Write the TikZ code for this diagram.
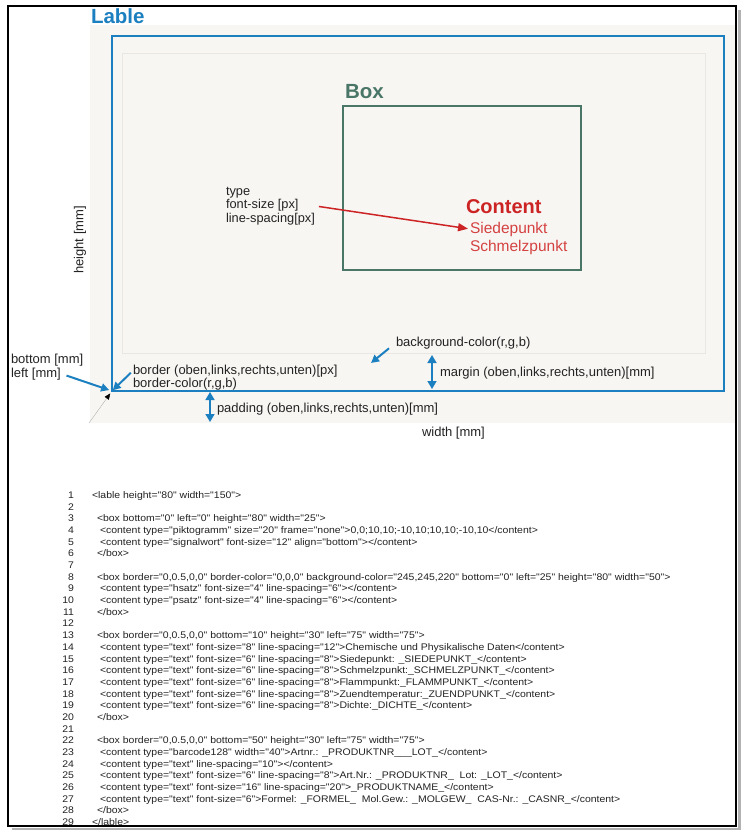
\documentclass[tikz,border=0pt]{standalone}
\usepackage{fontspec}
\setmainfont{Liberation Sans}
\newfontfamily\codefont[FakeStretch=1.09]{Liberation Sans}
\usetikzlibrary{arrows.meta,positioning}

\definecolor{lblue}{RGB}{28,128,192}
\definecolor{lbg}{RGB}{248,246,243}
\definecolor{lline}{RGB}{234,230,225}
\definecolor{boxgreen}{RGB}{74,118,104}
\definecolor{cred}{RGB}{204,36,36}
\definecolor{cred2}{RGB}{212,66,66}
\definecolor{ctext}{RGB}{35,35,35}

\begin{document}
\begin{tikzpicture}[x=1pt,y=-1pt]
\tikzstyle{every node}=[inner sep=0pt, outer sep=0pt, text=ctext]
\tikzstyle{lbl}=[anchor=base west, align=left, font=\fontsize{13}{13.5}\selectfont]
\tikzstyle{num}=[anchor=base east, font=\codefont\fontsize{9.6}{11}\selectfont]
\tikzstyle{code}=[anchor=base west, font=\codefont\fontsize{9.6}{11}\selectfont]
\tikzstyle{bluearrow}=[draw=lblue, line width=2pt, -{Triangle[length=8pt,width=8pt]}]
\tikzstyle{dblarrow}=[draw=lblue, line width=1.6pt, {Triangle[length=8pt,width=9pt]}-{Triangle[length=8pt,width=9pt]}]
\tikzstyle{redarrow}=[draw=cred, line width=1.5pt, -{Triangle[length=10pt,width=8pt]}]

\useasboundingbox (0,0) rectangle (744,830);
\fill[white] (0,0) rectangle (744,830);

% lable area
\fill[lbg] (90,25) rectangle (735,423);
\draw[lline] (122,53) rectangle (705,353);
\draw[lblue, line width=2pt] (112,36) rectangle (724,391);
\node[anchor=base west, font=\bfseries\fontsize{20.5}{22}\selectfont, text=lblue] (lable) at (91,23) {Lable};

% box and content
\draw[boxgreen, line width=1.6pt] (343,106) rectangle (581,270);
\node[anchor=base west, font=\bfseries\fontsize{20.5}{22}\selectfont, text=boxgreen] (box) at (345,98) {Box};
\node[anchor=base west, font=\bfseries\fontsize{20}{22}\selectfont, text=cred] (content) at (466,213) {Content};
\node[anchor=base west, font=\fontsize{15.5}{18}\selectfont, text=cred2] (siede) at (470,233) {Siedepunkt};
\node[anchor=base west, font=\fontsize{15.5}{18}\selectfont, text=cred2] (schmelz) at (470,251) {Schmelzpunkt};
\node[lbl, font=\fontsize{12.8}{13.3}\selectfont] (typ) at (226,222) {type\\font-size [px]\\line-spacing[px]};
\draw[redarrow, shorten <=4pt, shorten >=2pt] (typ.east) -- (siede.west);

% labels
\node[rotate=90, font=\fontsize{13}{13.5}\selectfont] (height) at (80,240) {height [mm]};
\node[lbl] (bottom) at (11,363) {bottom [mm]};
\node[lbl] (left) at (11,377) {left [mm]};
\node[lbl] (border) at (133,374) {border (oben,links,rechts,unten)[px]};
\node[lbl] (bcolor) at (133,387) {border-color(r,g,b)};
\node[lbl] (padding) at (217,412) {padding (oben,links,rechts,unten)[mm]};
\node[lbl] (width) at (422,436) {width [mm]};
\node[lbl] (bgcolor) at (396,346) {background-color(r,g,b)};
\node[lbl] (margin) at (440,376) {margin (oben,links,rechts,unten)[mm]};

% arrows
\coordinate (corner) at (112,391);
\coordinate (origin) at (89,423);
\coordinate (bgpt) at (371,363);
\coordinate (marginin) at (432,355);
\coordinate (marginout) at (432,389);
\coordinate (padin) at (210,392);
\coordinate (padout) at (210,422);
\draw[bluearrow, shorten <=6pt, shorten >=3pt] (left.east) -- (corner);
\draw[bluearrow, shorten <=3pt, shorten >=1pt] (border.west) -- (corner);
\draw[bluearrow, shorten <=9pt] (bgcolor.west) -- (bgpt);
\draw[dblarrow] (marginin) -- (marginout);
\draw[dblarrow] (padin) -- (padout);
\draw[gray!60, -{Triangle[length=6pt,width=5pt,color=black]}, shorten >=3pt] (origin) -- (corner);

% listing
\foreach \i in {1,...,29}
  \node[num] (n\i) at (74,{498.5+(\i-1)*11.68}) {\i};
\node[code] (c1) at ([xshift=18]n1.base east) {<lable height="80" width="150">};
\node[code] (c3) at ([xshift=23]n3.base east) {<box bottom="0" left="0" height="80" width="25">};
\node[code] (c4) at ([xshift=26]n4.base east) {<content type="piktogramm" size="20" frame="none">0,0;10,10;-10,10;10,10;-10,10</content>};
\node[code] (c5) at ([xshift=26]n5.base east) {<content type="signalwort" font-size="12" align="bottom"></content>};
\node[code] (c6) at ([xshift=23]n6.base east) {</box>};
\node[code] (c8) at ([xshift=23]n8.base east) {<box border="0,0.5,0,0" border-color="0,0,0" background-color="245,245,220" bottom="0" left="25" height="80" width="50">};
\node[code] (c9) at ([xshift=26]n9.base east) {<content type="hsatz" font-size="4" line-spacing="6"></content>};
\node[code] (c10) at ([xshift=26]n10.base east) {<content type="psatz" font-size="4" line-spacing="6"></content>};
\node[code] (c11) at ([xshift=23]n11.base east) {</box>};
\node[code] (c13) at ([xshift=23]n13.base east) {<box border="0,0.5,0,0" bottom="10" height="30" left="75" width="75">};
\node[code] (c14) at ([xshift=26]n14.base east) {<content type="text" font-size="8" line-spacing="12">Chemische und Physikalische Daten</content>};
\node[code] (c15) at ([xshift=26]n15.base east) {<content type="text" font-size="6" line-spacing="8">Siedepunkt: \_SIEDEPUNKT\_</content>};
\node[code] (c16) at ([xshift=26]n16.base east) {<content type="text" font-size="6" line-spacing="8">Schmelzpunkt:\_SCHMELZPUNKT\_</content>};
\node[code] (c17) at ([xshift=26]n17.base east) {<content type="text" font-size="6" line-spacing="8">Flammpunkt:\_FLAMMPUNKT\_</content>};
\node[code] (c18) at ([xshift=26]n18.base east) {<content type="text" font-size="6" line-spacing="8">Zuendtemperatur:\_ZUENDPUNKT\_</content>};
\node[code] (c19) at ([xshift=26]n19.base east) {<content type="text" font-size="6" line-spacing="8">Dichte:\_DICHTE\_</content>};
\node[code] (c20) at ([xshift=23]n20.base east) {</box>};
\node[code] (c22) at ([xshift=23]n22.base east) {<box border="0,0.5,0,0" bottom="50" height="30" left="75" width="75">};
\node[code] (c23) at ([xshift=26]n23.base east) {<content type="barcode128" width="40">Artnr.: \_PRODUKTNR\_\_\_LOT\_</content>};
\node[code] (c24) at ([xshift=26]n24.base east) {<content type="text" line-spacing="10"></content>};
\node[code] (c25) at ([xshift=26]n25.base east) {<content type="text" font-size="6" line-spacing="8">Art.Nr.: \_PRODUKTNR\_\ \ Lot: \_LOT\_</content>};
\node[code] (c26) at ([xshift=26]n26.base east) {<content type="text" font-size="16" line-spacing="20">\_PRODUKTNAME\_</content>};
\node[code] (c27) at ([xshift=26]n27.base east) {<content type="text" font-size="6">Formel: \_FORMEL\_\ \ Mol.Gew.: \_MOLGEW\_\ \ CAS-Nr.: \_CASNR\_</content>};
\node[code] (c28) at ([xshift=23]n28.base east) {</box>};
\node[code] (c29) at ([xshift=18]n29.base east) {</lable>};

% frame
\draw[black!30, line width=3pt] (12,829) -- (739,829) -- (739,10);
\draw[black, line width=1.6pt] (8,6) rectangle (736,826);
\end{tikzpicture}
\end{document}
